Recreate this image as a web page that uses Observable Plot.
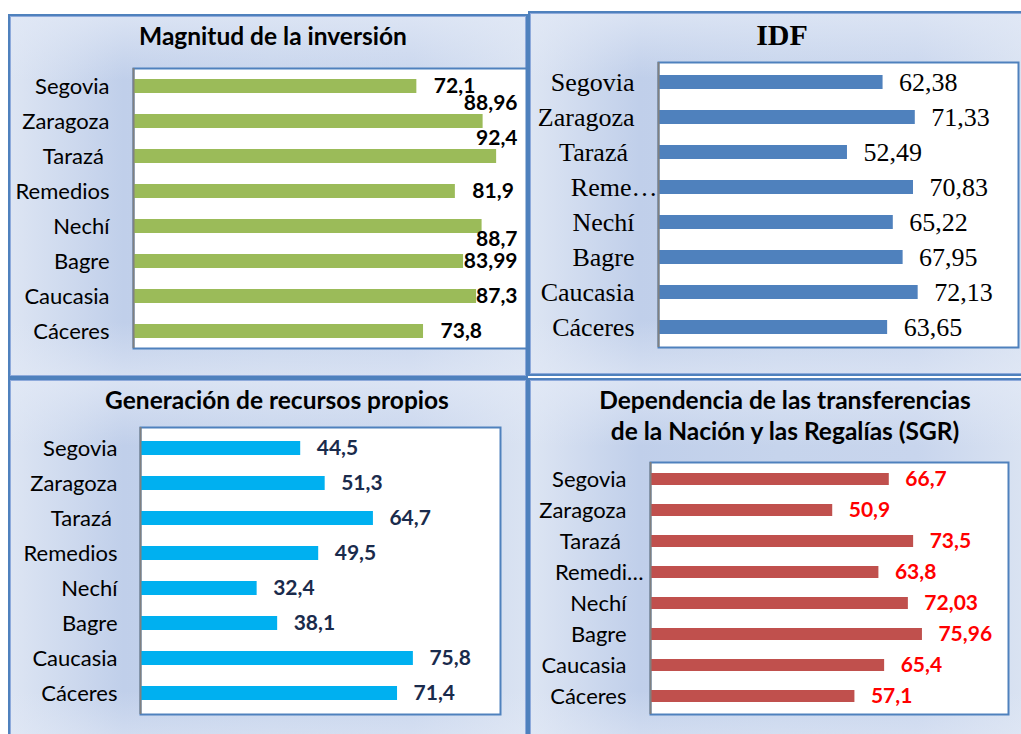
<!DOCTYPE html>
<html>
<head>
<meta charset="utf-8">
<script src="https://cdn.jsdelivr.net/npm/d3@7"></script>
<script src="https://cdn.jsdelivr.net/npm/@observablehq/plot@0.6"></script>
<style>
  html, body { margin: 0; padding: 0; background: #ffffff; }
  #root { position: relative; width: 1021px; height: 734px; overflow: hidden; background: #ffffff; }
  .panel {
    position: absolute; box-sizing: border-box;
    border: 2px solid #4f81bd;
    box-shadow: inset 0 0 0 1px #8eaadb;
    background:
      linear-gradient(180deg, rgba(226,233,246,0.75) 0%, rgba(226,233,246,0) 18%, rgba(226,233,246,0) 85%, rgba(226,233,246,0.6) 100%),
      linear-gradient(90deg, #dde5f3 0%, #c0cfea 22%, #c6d4ec 50%, #c8d5ed 78%, #dae3f2 100%);
  }
  .title { position: absolute; text-align: center; font-weight: bold; color: #000; white-space: nowrap; }
  .chart { position: absolute; }
</style>
</head>
<body>
<div id="root">
  <div class="panel" style="left:8px;top:14px;width:520px;height:364px;"></div>
  <div class="panel" style="left:528px;top:11px;width:500px;height:365px;"></div>
  <div class="panel" style="left:8px;top:378px;width:520px;height:370px;"></div>
  <div class="panel" style="left:528px;top:378px;width:500px;height:370px;"></div>

  <div class="title" style="left:8px;width:530px;top:21px;font:bold 24.5px Lato, sans-serif;">Magnitud de la inversión</div>
  <div class="title" style="left:528px;width:508px;top:18px;font:bold 30px 'Liberation Serif', serif;">IDF</div>
  <div class="title" style="left:8px;width:538px;top:385px;font:bold 24.5px Lato, sans-serif;">Generación de recursos propios</div>
  <div class="title" style="left:528px;width:514px;top:384px;font:bold 24.5px Lato, sans-serif;line-height:31px;">Dependencia de las transferencias<br>de la Nación y las Regalías (SGR)</div>

  <div class="chart" id="c1" style="left:0px;top:60px;"></div>
  <div class="chart" id="c2" style="left:528px;top:55px;"></div>
  <div class="chart" id="c3" style="left:0px;top:420px;"></div>
  <div class="chart" id="c4" style="left:528px;top:455px;"></div>
</div>
<script>
// ---- data ----
const categories = ["Segovia", "Zaragoza", "Tarazá\u00a0", "Remedios", "Nechí", "Bagre", "Caucasia", "Cáceres"];
const magnitud = [72.1, 88.96, 92.4, 81.9, 88.7, 83.99, 87.3, 73.8];
const idf = [62.38, 71.33, 52.49, 70.83, 65.22, 67.95, 72.13, 63.65];
const recursos = [44.5, 51.3, 64.7, 49.5, 32.4, 38.1, 75.8, 71.4];
const dependencia = [66.7, 50.9, 73.5, 63.8, 72.03, 75.96, 65.4, 57.1];
// how the source placed each "Magnitud" label (overlap resolution)
const magLabelPlace = ["out", "edgeUp", "edgeUp", "out", "edgeDown", "edge", "edge", "out"];

const fmt = v => String(v).replace(".", ",");
const rows = vals => categories.map((c, i) => ({cat: c, value: vals[i], i}));

function panel({vals, color, labelColor, font, tickFont, tickSize, labelSize, labelWeight,
                width, height, margins, tickPadding, truncated, truncPadding, labelMarks}) {
  const data = rows(vals);
  const [mt, mr, mb, ml] = margins;
  const axisOpts = {tickSize: 0, fontSize: tickSize, fontFamily: tickFont, fill: "#000"};
  const marks = [
    Plot.frame({fill: "white", stroke: "#4f81bd", strokeWidth: 2}),
    Plot.barX(data, {x: "value", y: "cat", fill: color}),
    Plot.ruleX([0], {stroke: "#808080", strokeWidth: 2}),
  ];
  if (truncated) {
    const keys = Object.keys(truncated);
    marks.push(Plot.axisY({...axisOpts, tickPadding, ticks: categories.filter(c => !keys.includes(c))}));
    marks.push(Plot.axisY({...axisOpts, tickPadding: truncPadding, ticks: keys, tickFormat: d => truncated[d]}));
  } else {
    marks.push(Plot.axisY({...axisOpts, tickPadding}));
  }
  if (labelMarks) marks.push(...labelMarks(data));
  else marks.push(Plot.text(data, {x: "value", y: "cat", text: d => fmt(d.value), textAnchor: "start", dx: 16,
                                   fill: labelColor, fontSize: labelSize, fontWeight: labelWeight, fontFamily: font}));
  return Plot.plot({
    width, height,
    marginTop: mt, marginRight: mr, marginBottom: mb, marginLeft: ml,
    style: {background: "transparent", overflow: "visible", fontFamily: font, color: "#000"},
    x: {domain: [0, 100], axis: null},
    y: {domain: categories, paddingInner: 0.6, paddingOuter: 0.3, axis: null, label: null},
    marks
  });
}

const calibri = "Lato, 'Open Sans', sans-serif";
const times = "'Liberation Serif', 'Times New Roman', serif";

document.getElementById("c1").append(panel({
  vals: magnitud, color: "#9bbb59", labelColor: "#000", font: calibri, tickFont: calibri,
  tickSize: 22, labelSize: 21, labelWeight: "bold",
  width: 527, height: 295, margins: [8, 1, 7, 133], tickPadding: 24,
  labelMarks: data => {
    const common = {y: "cat", text: d => fmt(d.value), fill: "#000", fontSize: 21, fontWeight: "bold", fontFamily: calibri};
    return [
      Plot.text(data.filter((d, i) => magLabelPlace[i] === "out"), {...common, x: "value", textAnchor: "start", dx: 17}),
      Plot.text(data.filter((d, i) => magLabelPlace[i] === "edge"), {...common, frameAnchor: "right", textAnchor: "end", dx: -9}),
      Plot.text(data.filter((d, i) => magLabelPlace[i] === "edgeUp"), {...common, frameAnchor: "right", textAnchor: "end", dx: -9, dy: -18}),
      Plot.text(data.filter((d, i) => magLabelPlace[i] === "edgeDown"), {...common, frameAnchor: "right", textAnchor: "end", dx: -9, dy: 13})
    ];
  }
}));

document.getElementById("c2").append(panel({
  vals: idf, color: "#4f81bd", labelColor: "#000", font: times, tickFont: times,
  tickSize: 26, labelSize: 26, labelWeight: "normal",
  width: 493, height: 300, margins: [7, 3, 8, 130], tickPadding: 24,
  truncated: {"Remedios": "Reme…"}, truncPadding: 1
}));

document.getElementById("c3").append(panel({
  vals: recursos, color: "#00b0f0", labelColor: "#1a2b4c", font: calibri, tickFont: calibri,
  tickSize: 22, labelSize: 21, labelWeight: "bold",
  width: 527, height: 300, margins: [7, 27, 6, 140], tickPadding: 23
}));

document.getElementById("c4").append(panel({
  vals: dependencia, color: "#c0504d", labelColor: "#ff0000", font: calibri, tickFont: calibri,
  tickSize: 22, labelSize: 21, labelWeight: "bold",
  width: 493, height: 265, margins: [7, 13, 6, 122], tickPadding: 24,
  truncated: {"Remedios": "Remedi…"}, truncPadding: 7
}));
</script>
</body>
</html>
